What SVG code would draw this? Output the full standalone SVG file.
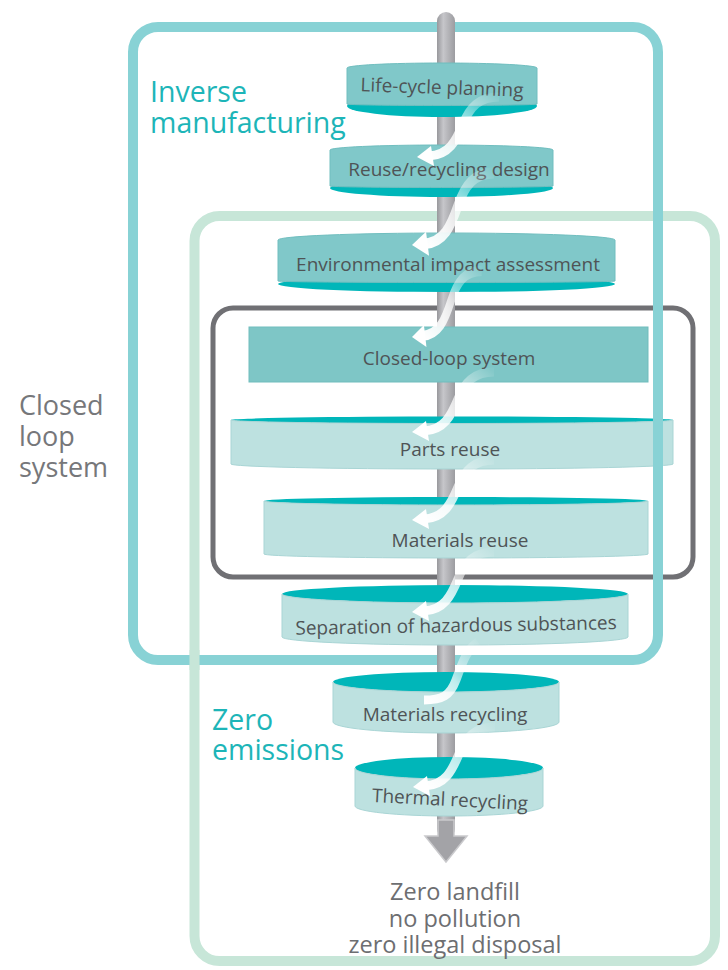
<svg xmlns="http://www.w3.org/2000/svg" xmlns:xlink="http://www.w3.org/1999/xlink" width="728" height="970" viewBox="0 0 728 970">
<style>
  .frame { fill: none; }
  .f-inv { stroke: #88D2D5; stroke-width: 10; }
  .f-zero { stroke: #C7E6D8; stroke-width: 10; }
  .f-loop { stroke: #707074; stroke-width: 5; }
  .teal { fill: #00B6B9; }
  .body-up { fill: #80C8C9; stroke: #70BEBF; stroke-width: 1; }
  .body-low { fill: #BDE1E0; stroke: #A9D5D5; stroke-width: 1; }
  .dtxt { font-family: "Open Sans", "Liberation Sans", sans-serif; font-size: 19px; fill: #4F5456; text-anchor: middle; }
  .head { font-family: "Open Sans", "Liberation Sans", sans-serif; font-size: 28.5px; fill: #1DB5B8; }
  .side { font-family: "Open Sans", "Liberation Sans", sans-serif; font-size: 27px; fill: #76777A; }
  .out { font-family: "Open Sans", "Liberation Sans", sans-serif; font-size: 23.5px; fill: #6D6E71; text-anchor: middle; }
  .flow { fill: none; stroke: url(#flowGrad); stroke-width: 9; }
  .flowhead { fill: #FFFFFF; }
</style>
<defs>
  <linearGradient id="poleGrad" x1="0" y1="0" x2="1" y2="0">
    <stop offset="0" stop-color="#98989C"/>
    <stop offset="0.35" stop-color="#C6C6CA"/>
    <stop offset="1" stop-color="#9C9CA0"/>
  </linearGradient>
  <linearGradient id="flowGrad" x1="1" y1="0" x2="0" y2="1">
    <stop offset="0" stop-color="#FFFFFF" stop-opacity="0.05"/>
    <stop offset="0.55" stop-color="#FFFFFF" stop-opacity="0.75"/>
    <stop offset="1" stop-color="#FFFFFF" stop-opacity="1"/>
  </linearGradient>
  <g id="flowArrow">
    <path class="flow" d="M 82 -60 C 62 -60, 53 -50, 46 -33 S 32 -2, 12 -1"/>
    <polygon class="flowhead" points="0,0 14,-11 17,9"/>
  </g>
</defs>

<!-- frames -->
<g id="frame-zero-emissions">
  <rect class="frame f-zero" x="194.5" y="216" width="520.5" height="745" rx="25"/>
</g>
<g id="frame-closed-loop">
  <rect class="frame f-loop" x="213" y="308" width="480" height="269" rx="20"/>
</g>
<g id="frame-inverse-manufacturing">
  <rect class="frame f-inv" x="133" y="27" width="525" height="633" rx="25"/>
</g>
<g id="frame-zero-overlap">
  <line class="f-zero" x1="194.5" y1="650" x2="194.5" y2="670"/>
</g>

<!-- central pole -->
<g id="pole">
  <rect x="437" y="12" width="18" height="826" rx="9" fill="url(#poleGrad)"/>
  <polygon points="438,820 454,820 454,836 467,836 446,862 425,836 438,836" fill="#A3A3A7" stroke="#CACACD" stroke-width="1.5"/>
</g>

<!-- discs -->
<g id="life-cycle-planning">
  <ellipse class="teal" cx="442" cy="106" rx="95" ry="11"/>
  <path class="body-up" d="M 347 68 A 95 5 0 0 1 537 68 L 537 104 A 95 1.5 0 0 1 347 104 Z"/>
  <text class="dtxt" x="442" y="94" transform="rotate(2 442 88)">Life-cycle planning</text>
</g>
<g id="reuse-recycling-design">
  <ellipse class="teal" cx="441.5" cy="188" rx="111.5" ry="9"/>
  <path class="body-up" d="M 330 150 A 111.5 5 0 0 1 553 150 L 553 186 A 111.5 1.5 0 0 1 330 186 Z"/>
  <text class="dtxt" x="449" y="176">Reuse/recycling design</text>
</g>
<g id="environmental-impact-assessment">
  <ellipse class="teal" cx="446.5" cy="284" rx="168.5" ry="8"/>
  <path class="body-up" d="M 278 240 A 168.5 7 0 0 1 615 240 L 615 281 A 168.5 1.5 0 0 1 278 281 Z"/>
  <text class="dtxt" x="448" y="271">Environmental impact assessment</text>
</g>
<g id="closed-loop-system">
  <rect x="249" y="327" width="399" height="55" fill="#7EC6C6" stroke="#70BDBD" stroke-width="1"/>
  <text class="dtxt" x="449" y="365">Closed-loop system</text>
</g>
<g id="parts-reuse">
  <ellipse class="teal" cx="452" cy="420" rx="221" ry="3.5"/>
  <path class="body-low" d="M 231 420 A 221 3.5 0 0 0 673 420 L 673 464 A 221 5 0 0 1 231 464 Z"/>
  <text class="dtxt" x="450" y="456">Parts reuse</text>
</g>
<g id="materials-reuse">
  <ellipse class="teal" cx="456" cy="501" rx="192" ry="4"/>
  <path class="body-low" d="M 264 501 A 192 4 0 0 0 648 501 L 648 554 A 192 4 0 0 1 264 554 Z"/>
  <text class="dtxt" x="460" y="547">Materials reuse</text>
</g>
<g id="separation-of-hazardous-substances">
  <ellipse class="teal" cx="455" cy="594" rx="173" ry="9"/>
  <path class="body-low" d="M 282 594 A 173 9 0 0 0 628 594 L 628 637 A 173 8 0 0 1 282 637 Z"/>
  <text class="dtxt" x="456" y="632" transform="rotate(-1 456 626)">Separation of hazardous substances</text>
</g>
<g id="materials-recycling">
  <ellipse class="teal" cx="446" cy="682" rx="113" ry="10"/>
  <path class="body-low" d="M 333 682 A 113 10 0 0 0 559 682 L 559 722 A 113 11 0 0 1 333 722 Z"/>
  <text class="dtxt" x="445" y="721">Materials recycling</text>
</g>
<g id="thermal-recycling">
  <ellipse class="teal" cx="449" cy="768" rx="94" ry="11"/>
  <path class="body-low" d="M 355 768 A 94 11 0 0 0 543 768 L 543 806 A 94 10 0 0 1 355 806 Z"/>
  <text class="dtxt" x="450" y="806" transform="rotate(3 450 800)">Thermal recycling</text>
</g>

<!-- inverse-manufacturing frame edge passing over Parts reuse -->
<g id="frame-inverse-overlap">
  <line class="f-inv" x1="658" y1="410" x2="658" y2="475"/>
</g>

<!-- connectors: flow arrows -->
<g id="connectors">
  <use xlink:href="#flowArrow" transform="translate(417 157)"/>
  <use xlink:href="#flowArrow" transform="translate(412 245) scale(1 1.2)"/>
  <use xlink:href="#flowArrow" transform="translate(412 337) scale(0.85 1.1)"/>
  <use xlink:href="#flowArrow" transform="translate(412 432)"/>
  <use xlink:href="#flowArrow" transform="translate(412 520)"/>
  <use xlink:href="#flowArrow" transform="translate(412 612)"/>
  <path class="flow" stroke-width="11" d="M 478 642 C 466 650, 462 664, 456 680 S 442 700, 424 700"/>
  <use xlink:href="#flowArrow" transform="translate(413 787)"/>
</g>

<!-- labels -->
<g id="label-inverse-manufacturing">
  <text class="head" x="150" y="102">Inverse</text>
  <text class="head" x="150" y="133">manufacturing</text>
</g>
<g id="label-closed-loop-system">
  <text class="side" x="19" y="415">Closed</text>
  <text class="side" x="19" y="446">loop</text>
  <text class="side" x="19" y="477">system</text>
</g>
<g id="label-zero-emissions">
  <text class="head" x="212" y="730">Zero</text>
  <text class="head" x="212" y="760">emissions</text>
</g>
<g id="outcome">
  <text class="out" x="455" y="900">Zero landfill</text>
  <text class="out" x="455" y="926.5">no pollution</text>
  <text class="out" x="455" y="953">zero illegal disposal</text>
</g>
</svg>
